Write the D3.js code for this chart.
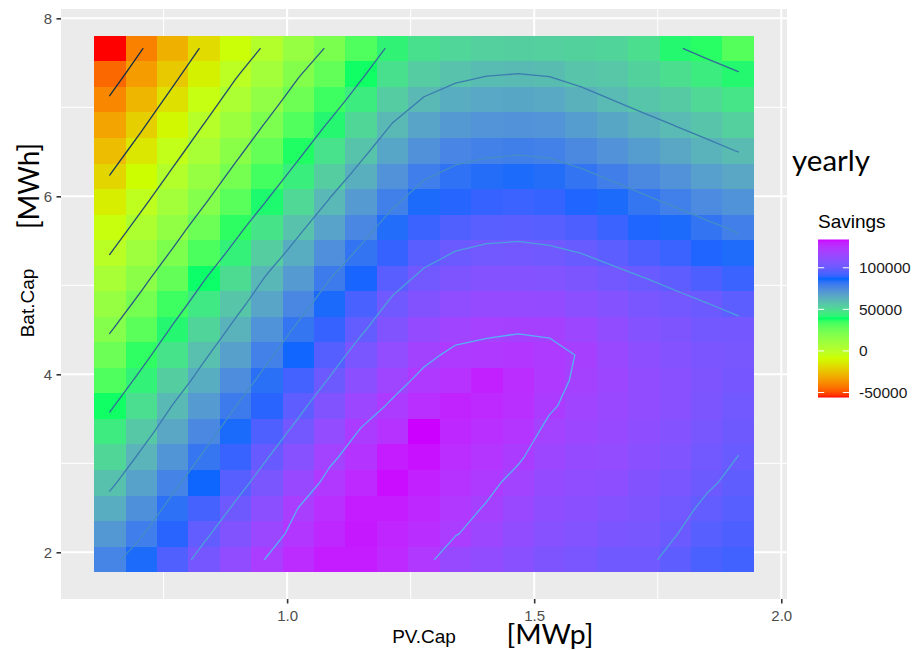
<!DOCTYPE html>
<html>
<head>
<meta charset="utf-8">
<script src="https://cdn.jsdelivr.net/npm/d3@7"></script>
<style>
  body { margin: 0; background: #ffffff; }
  svg { display: block; }
</style>
</head>
<body>
<svg id="chart" width="922" height="650"></svg>
<script>
// PV capacity (MWp) at the centre of each column
const pvCap = [0.641, 0.705, 0.768, 0.832, 0.895, 0.959, 1.023, 1.086, 1.150, 1.213, 1.277,
               1.341, 1.404, 1.468, 1.531, 1.595, 1.659, 1.722, 1.786, 1.849, 1.913];

// Battery capacity (MWh) at the centre of each row, top row first
const batCap = [7.660, 7.373, 7.086, 6.799, 6.512, 6.225, 5.938, 5.651, 5.364, 5.077, 4.790,
                4.503, 4.216, 3.929, 3.642, 3.355, 3.068, 2.781, 2.494, 2.207, 1.920];

// Yearly savings, one row per battery capacity (same order as batCap), one value per PV capacity
const savings = [
  [-56000, -40550, -29600, -18200,  -7400,   2000,  12900,  21600,  32100,  42500,  48500,  51600,  53300,  53800,  53200,  53000,  52000,  49000,  41000,  37000,  31000],
  [-45500, -34200, -23200, -12000,  -1300,   8400,  19100,  28100,  38500,  48500,  54600,  57800,  59500,  60100,  59400,  57000,  56000,  53000,  49000,  44700,  41000],
  [-39000, -27900, -16900,  -5800,   4800,  14800,  25300,  34700,  44800,  54500,  60700,  64100,  65800,  66400,  65700,  63000,  59900,  56700,  55000,  51000,  47000],
  [-32600, -21600, -10500,    400,  10900,  21200,  31500,  41300,  51200,  60500,  66900,  70300,  72000,  72700,  72000,  69300,  66300,  63000,  59800,  57000,  53500],
  [-26100, -15200,  -4200,   6600,  17000,  27500,  37700,  47800,  57500,  66500,  73000,  76600,  78300,  79000,  78300,  75600,  72600,  69300,  66000,  62600,  59700],
  [-19700,  -8800,   2100,  12800,  23300,  33900,  44200,  54400,  63700,  72500,  79100,  82700,  84300,  85000,  84200,  82000,  78800,  75600,  72500,  68500,  66000],
  [-13200,  -2400,   8400,  19000,  29900,  40400,  51000,  60900,  69900,  78400,  85000,  88600,  90300,  90900,  90100,  88000,  84900,  81800,  78700,  75000,  72300],
  [ -6800,   4000,  14700,  25700,  36600,  47400,  57800,  67200,  76000,  84400,  90900,  94500,  96300,  96800,  96000,  94000,  91000,  87900,  84900,  82000,  78600],
  [  -400,  10400,  21100,  32500,  43200,  54400,  64100,  73500,  82000,  90300,  96700, 100400, 102100, 102600, 101700,  99900,  97000,  94000,  91000,  88000,  84600],
  [  6000,  16800,  27800,  39400,  49900,  61100,  70100,  79800,  87500,  96200, 102300, 105900, 107700, 108100, 107300, 105500, 103000, 100200,  97500,  94000,  90800],
  [ 12600,  23200,  34600,  45800,  56500,  66800,  76200,  85100,  93100, 101800, 107500, 111400, 113200, 113700, 112800, 110000, 108000, 104500, 102800, 100300,  97000],
  [ 19000,  29800,  41200,  52100,  62700,  72400,  81900,  90300,  98700, 106700, 112700, 116900, 118700, 119300, 119000, 116000, 112000, 108000, 106000, 103000, 103400],
  [ 25500,  36400,  47600,  58500,  68400,  78100,  87100,  95500, 104300, 111700, 117900, 122000, 122500, 123500, 122000, 119500, 114500, 110500, 108000, 105000, 104000],
  [ 32000,  42900,  54000,  64300,  74100,  83500,  92300, 100800, 110000, 116700, 122400, 125500, 130000, 127000, 122500, 118500, 115500, 112000, 109000, 106000, 103500],
  [ 38500,  49300,  60300,  70100,  79800,  88800,  97500, 106600, 115600, 121400, 126000, 129500, 128000, 126000, 121000, 117000, 115000, 112000, 109000, 105500, 102500],
  [ 45000,  55700,  66000,  75800,  85200,  94200, 102900, 112400, 120900, 125000, 134000, 128500, 126000, 124000, 118000, 115500, 114000, 111000, 108000, 104000, 101400],
  [ 51400,  61900,  71700,  81400,  90600,  99500, 108500, 118200, 124800, 131000, 132500, 127000, 124000, 121000, 115500, 113500, 112500, 109500, 106500, 102500,  99900],
  [ 57900,  67700,  77400,  87000,  96000, 104800, 114200, 122800, 128000, 133000, 130000, 125000, 122000, 117500, 113000, 111500, 110500, 107500, 104500, 101100,  98000],
  [ 64300,  73400,  83100,  92500, 101500, 110000, 120200, 126000, 131000, 131000, 128500, 123000, 119300, 115000, 111000, 109500, 108000, 106000, 102500,  98500,  96000],
  [ 70800,  79100,  88800,  98100, 106900, 115300, 123500, 128500, 131500, 129000, 126500, 120500, 116000, 112000, 108500, 107000, 105000, 104000, 100300,  96000,  94000],
  [ 77200,  84900,  94500, 103600, 112300, 120600, 127500, 131000, 131000, 128000, 123000, 114000, 112000, 109000, 106000, 104500, 102000, 102000,  97500,  93500,  92000]
];

const xTicks = [1.0, 1.5, 2.0];
const xMinorTicks = [0.75, 1.25, 1.75];
const yTicks = [2, 4, 6, 8];
const yMinorTicks = [3, 5, 7];
const legendTicks = [-50000, 0, 50000, 100000];
const contourLevels = [-40000, -20000, 0, 20000, 40000, 60000, 80000, 100000, 120000];

// fill palette (red → yellow-green → green → blue → magenta), contour ramp
const palette = ["#FF0000", "#CCFF00", "#00FF66", "#0066FF", "#CC00FF"];
const lineRamp = ["#132B43", "#56B1F7"];

const svg = d3.select("#chart");
const panel = { left: 61, right: 787, top: 9, bottom: 599 };
const ggFont = "'Liberation Sans', Arial, Helvetica, sans-serif";
const noteFont = "Lato, 'Open Sans', sans-serif";

// scales: tile extents expanded by 5% on both sides
const pvStep = (pvCap[pvCap.length - 1] - pvCap[0]) / (pvCap.length - 1);
const batStep = (batCap[0] - batCap[batCap.length - 1]) / (batCap.length - 1);
const xLo = d3.min(pvCap) - pvStep / 2, xHi = d3.max(pvCap) + pvStep / 2;
const yLo = d3.min(batCap) - batStep / 2, yHi = d3.max(batCap) + batStep / 2;
const xPad = (xHi - xLo) * 0.05, yPad = (yHi - yLo) * 0.05;
const x = d3.scaleLinear().domain([xLo - xPad, xHi + xPad]).range([panel.left, panel.right]);
const y = d3.scaleLinear().domain([yLo - yPad, yHi + yPad]).range([panel.bottom, panel.top]);

const allVals = savings.flat();
const vMin = d3.min(allVals), vMax = d3.max(allVals);
const fill = d3.scaleLinear()
  .domain(palette.map((_, k) => vMin + k * (vMax - vMin) / (palette.length - 1)))
  .range(palette)
  .interpolate(d3.interpolateLab);
const lineColour = d3.scaleLinear()
  .domain(d3.extent(contourLevels))
  .range(lineRamp)
  .interpolate(d3.interpolateLab);

// panel background and grid
svg.append("rect")
  .attr("x", panel.left).attr("y", panel.top)
  .attr("width", panel.right - panel.left).attr("height", panel.bottom - panel.top)
  .attr("fill", "#EBEBEB");

const grid = svg.append("g").attr("stroke", "#ffffff");
grid.selectAll("line.xmin").data(xMinorTicks).join("line")
  .attr("x1", d => x(d)).attr("x2", d => x(d))
  .attr("y1", panel.top).attr("y2", panel.bottom).attr("stroke-width", 1);
grid.selectAll("line.ymin").data(yMinorTicks).join("line")
  .attr("y1", d => y(d)).attr("y2", d => y(d))
  .attr("x1", panel.left).attr("x2", panel.right).attr("stroke-width", 1);
grid.selectAll("line.xmaj").data(xTicks).join("line")
  .attr("x1", d => x(d)).attr("x2", d => x(d))
  .attr("y1", panel.top).attr("y2", panel.bottom).attr("stroke-width", 2);
grid.selectAll("line.ymaj").data(yTicks).join("line")
  .attr("y1", d => y(d)).attr("y2", d => y(d))
  .attr("x1", panel.left).attr("x2", panel.right).attr("stroke-width", 2);

// tile edges: midpoints between neighbouring centres, half a step at the ends
function edges(centres, step) {
  return centres.map((c, k) => {
    const lo = k === 0 ? c - Math.sign(centres[1] - c) * step / 2 : (centres[k - 1] + c) / 2;
    const hi = k === centres.length - 1 ? c + Math.sign(c - centres[k - 1]) * step / 2 : (c + centres[k + 1]) / 2;
    return [lo, hi];
  });
}
const pvEdges = edges(pvCap, pvStep);
const batEdges = edges(batCap, batStep);

// raster tiles
const cells = [];
batCap.forEach((b, j) => pvCap.forEach((p, i) => cells.push({ i, j, v: savings[j][i] })));
const px0 = d => Math.round(x(pvEdges[d.i][0]));
const px1 = d => Math.round(x(pvEdges[d.i][1]));
const py0 = d => Math.round(y(batEdges[d.j][0]));   // upper edge (larger battery value)
const py1 = d => Math.round(y(batEdges[d.j][1]));   // lower edge
svg.append("g").attr("shape-rendering", "crispEdges")
  .selectAll("rect").data(cells).join("rect")
  .attr("x", px0)
  .attr("y", py0)
  .attr("width", d => px1(d) - px0(d))
  .attr("height", d => py1(d) - py0(d))
  .attr("fill", d => fill(d.v));

// contour lines by marching squares over the grid of tile centres
function isoSegments(level) {
  const segs = [];
  const lerp = (pa, pb, va, vb) => {
    const t = (level - va) / (vb - va);
    return [pa[0] + t * (pb[0] - pa[0]), pa[1] + t * (pb[1] - pa[1])];
  };
  for (let j = 0; j < batCap.length - 1; j++) {
    for (let i = 0; i < pvCap.length - 1; i++) {
      const P = [[pvCap[i], batCap[j]], [pvCap[i + 1], batCap[j]],
                 [pvCap[i + 1], batCap[j + 1]], [pvCap[i], batCap[j + 1]]];
      const V = [savings[j][i], savings[j][i + 1], savings[j + 1][i + 1], savings[j + 1][i]];
      const up = V.map(v => v >= level);
      const pts = [0, 1, 2, 3].map(e => {
        const a = e, b = (e + 1) % 4;
        return up[a] !== up[b] ? lerp(P[a], P[b], V[a], V[b]) : null;
      });
      const hits = pts.filter(Boolean);
      if (hits.length === 2) {
        segs.push(hits);
      } else if (hits.length === 4) {
        const centreUp = d3.mean(V) >= level;
        if (centreUp === up[0]) { segs.push([pts[0], pts[1]], [pts[2], pts[3]]); }
        else { segs.push([pts[3], pts[0]], [pts[1], pts[2]]); }
      }
    }
  }
  return segs;
}

const contourG = svg.append("g")
  .attr("fill", "none").attr("stroke-width", 1.3)
  .attr("stroke-linecap", "round").attr("stroke-linejoin", "round");
contourLevels.forEach(level => {
  const segs = isoSegments(level);
  if (!segs.length) return;
  const d = segs.map(s => `M${x(s[0][0]).toFixed(2)},${y(s[0][1]).toFixed(2)}L${x(s[1][0]).toFixed(2)},${y(s[1][1]).toFixed(2)}`).join("");
  contourG.append("path").attr("d", d).attr("stroke", lineColour(level));
});

// axes
const xAxis = svg.append("g")
  .attr("transform", `translate(0,${panel.bottom})`)
  .call(d3.axisBottom(x).tickValues(xTicks).tickFormat(d3.format(".1f")).tickSize(4.5).tickPadding(7));
const yAxis = svg.append("g")
  .attr("transform", `translate(${panel.left},0)`)
  .call(d3.axisLeft(y).tickValues(yTicks).tickFormat(d3.format("d")).tickSize(4.5).tickPadding(4.5));
[xAxis, yAxis].forEach(g => {
  g.select(".domain").remove();
  g.selectAll(".tick line").attr("stroke", "#333333").attr("stroke-width", 1.6);
  g.selectAll(".tick text").attr("fill", "#4D4D4D")
    .style("font-family", ggFont).style("font-size", "15px");
});

// axis titles
svg.append("text")
  .attr("x", (panel.left + panel.right) / 2).attr("y", 643)
  .attr("text-anchor", "middle").attr("fill", "#000")
  .style("font-family", ggFont).style("font-size", "19px")
  .text("PV.Cap");
svg.append("text")
  .attr("transform", `translate(34,303) rotate(-90)`)
  .attr("text-anchor", "middle").attr("fill", "#000")
  .style("font-family", ggFont).style("font-size", "19px")
  .text("Bat.Cap");

// unit annotations
svg.append("text")
  .attr("x", 550).attr("y", 644)
  .attr("text-anchor", "middle").attr("fill", "#000")
  .attr("textLength", 87).attr("lengthAdjust", "spacingAndGlyphs")
  .style("font-family", noteFont).style("font-size", "27px")
  .text("[MWp]");
svg.append("text")
  .attr("transform", `translate(38.5,186) rotate(-90)`)
  .attr("text-anchor", "middle").attr("fill", "#000")
  .attr("textLength", 86).attr("lengthAdjust", "spacingAndGlyphs")
  .style("font-family", noteFont).style("font-size", "28px")
  .text("[MWh]");
svg.append("text")
  .attr("x", 792).attr("y", 171)
  .attr("fill", "#000")
  .attr("textLength", 78).attr("lengthAdjust", "spacingAndGlyphs")
  .style("font-family", noteFont).style("font-size", "28px")
  .text("yearly");

// colour bar legend
const bar = { x: 818, y: 239.5, w: 31, h: 158 };
const legendY = d3.scaleLinear().domain([vMin, vMax]).range([bar.y + bar.h, bar.y]);

svg.append("text")
  .attr("x", bar.x).attr("y", 228).attr("fill", "#000")
  .style("font-family", ggFont).style("font-size", "19px")
  .text("Savings");

const grad = svg.append("defs").append("linearGradient")
  .attr("id", "savingsGrad").attr("x1", 0).attr("y1", 1).attr("x2", 0).attr("y2", 0);
d3.range(0, 1.0001, 1 / 80).forEach(t => {
  grad.append("stop").attr("offset", t).attr("stop-color", fill(vMin + t * (vMax - vMin)));
});
svg.append("rect")
  .attr("x", bar.x).attr("y", bar.y).attr("width", bar.w).attr("height", bar.h)
  .attr("fill", "url(#savingsGrad)");

const tickLen = bar.w / 5;
const legendTickG = svg.append("g").attr("stroke", "#ffffff").attr("stroke-width", 1);
legendTicks.forEach(v => {
  legendTickG.append("line").attr("x1", bar.x).attr("x2", bar.x + tickLen)
    .attr("y1", legendY(v)).attr("y2", legendY(v));
  legendTickG.append("line").attr("x1", bar.x + bar.w - tickLen).attr("x2", bar.x + bar.w)
    .attr("y1", legendY(v)).attr("y2", legendY(v));
});

const legendAxis = svg.append("g")
  .attr("transform", `translate(${bar.x + bar.w},0)`)
  .call(d3.axisRight(legendY).tickValues(legendTicks).tickFormat(d => String(d)).tickSize(0).tickPadding(10));
legendAxis.select(".domain").remove();
legendAxis.selectAll(".tick text").attr("fill", "#1A1A1A")
  .style("font-family", ggFont).style("font-size", "15.5px");
</script>
</body>
</html>
